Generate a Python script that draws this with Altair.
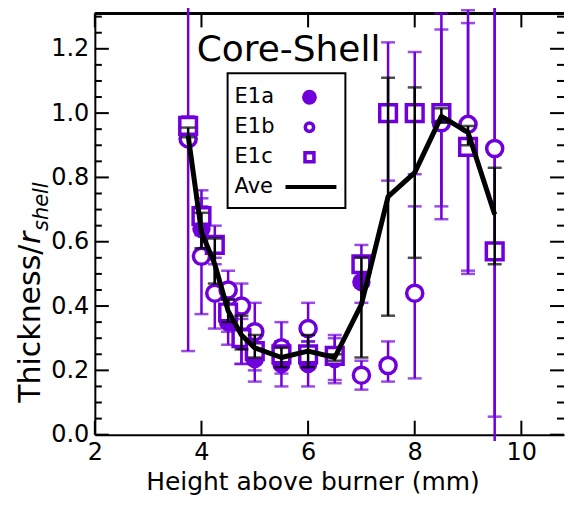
import altair as alt
import pandas as pd

# ---------------- data ----------------
ave_x = [3.75, 4.0, 4.25, 4.5, 4.75, 5.0, 5.5, 6.0, 6.5, 7.0, 7.5, 8.0, 8.5, 9.0, 9.5]
ave_y = [0.93, 0.63, 0.53, 0.385, 0.31, 0.27, 0.24, 0.26, 0.24, 0.405, 0.74, 0.815, 0.99, 0.94, 0.685]
ave_lo = [0.925, 0.58, 0.47, 0.35, 0.265, 0.24, 0.21, 0.21, 0.23, 0.24, 0.37, 0.55, 0.97, 0.90, 0.53]
ave_hi = [0.955, 0.69, 0.61, 0.42, 0.37, 0.31, 0.27, 0.31, 0.25, 0.55, 1.11, 1.08, 1.015, 0.96, 0.83]

e1a_x = [4.0, 4.5, 4.75, 5.0, 5.5, 6.0, 6.5, 7.0]
e1a_y = [0.64, 0.35, 0.29, 0.235, 0.22, 0.22, 0.235, 0.475]
e1a_lo = [0.57, 0.28, 0.22, 0.165, 0.15, 0.15, 0.16, 0.41]
e1a_hi = [0.71, 0.42, 0.36, 0.30, 0.29, 0.29, 0.30, 0.54]

e1b_x = [3.75, 4.0, 4.25, 4.5, 4.75, 5.0, 5.5, 6.0, 7.0, 7.5, 8.0, 8.5, 9.0, 9.5]
e1b_y = [0.92, 0.555, 0.44, 0.45, 0.40, 0.32, 0.27, 0.33, 0.185, 0.215, 0.44, 0.97, 0.965, 0.89]
e1b_lo = [0.26, 0.375, 0.33, 0.39, 0.33, 0.25, 0.19, 0.26, 0.14, 0.165, 0.175, 0.67, 0.50, -0.02]
e1b_hi = [1.40, 0.735, 0.55, 0.51, 0.47, 0.41, 0.35, 0.41, 0.23, 0.29, 0.71, 1.31, 1.32, 1.40]

e1c_x = [3.75, 4.0, 4.25, 4.5, 4.75, 5.0, 5.5, 6.0, 6.5, 7.0, 7.5, 8.0, 8.5, 9.0, 9.5]
e1c_y = [0.96, 0.68, 0.59, 0.38, 0.30, 0.26, 0.25, 0.25, 0.245, 0.53, 1.0, 1.0, 1.0, 0.895, 0.57]
e1c_lo = [0.93, 0.62, 0.53, 0.32, 0.22, 0.20, 0.21, 0.21, 0.17, 0.47, 0.79, 0.81, 0.71, 0.51, 0.056]
e1c_hi = [0.99, 0.76, 0.65, 0.44, 0.38, 0.32, 0.29, 0.29, 0.31, 0.59, 1.22, 1.19, 1.26, 1.28, 1.40]

x_major = [2, 4, 6, 8, 10]
y_major = [0.0, 0.2, 0.4, 0.6, 0.8, 1.0, 1.2]
y_minor = [0.05, 0.1, 0.15, 0.25, 0.3, 0.35, 0.45, 0.5, 0.55, 0.65, 0.7, 0.75,
           0.85, 0.9, 0.95, 1.05, 1.1, 1.15, 1.25, 1.3]

# ---------------- layout / style ----------------
W, H = 470, 422
PURPLE = "#6F00DC"
FONT = "DejaVu Sans"

def frame(name, xs, ys, lo, hi):
    return pd.DataFrame({"series": name, "x": xs, "y": ys, "lo": lo, "hi": hi})

df_a = frame("E1a", e1a_x, e1a_y, e1a_lo, e1a_hi)
df_b = frame("E1b", e1b_x, e1b_y, e1b_lo, e1b_hi)
df_c = frame("E1c", e1c_x, e1c_y, e1c_lo, e1c_hi)
df_ave = frame("Ave", ave_x, ave_y, ave_lo, ave_hi)
df_purple = pd.concat([df_a, df_b, df_c], ignore_index=True)

xscale = alt.Scale(domain=[2, 10.8], nice=False, zero=False)
yscale = alt.Scale(domain=[0, 1.31], nice=False, zero=False)
xaxis = alt.Axis(values=x_major, ticks=False, grid=False, domain=True,
                 domainColor="black", domainWidth=2, labelFont=FONT,
                 labelFontSize=24, labelColor="black", labelPadding=6,
                 labelFlush=False, title="Height above burner (mm)",
                 titleFont=FONT, titleFontSize=25, titleFontWeight="normal",
                 titleColor="black", titlePadding=5, titleX=218)
yaxis = alt.Axis(values=y_major, format=".1f", ticks=False, grid=False,
                 domain=True, domainColor="black", domainWidth=2,
                 labelFont=FONT, labelFontSize=24, labelColor="black",
                 labelPadding=6, labelFlush=False, title=None)

def X(f):
    return alt.X(f, type="quantitative", scale=xscale, axis=xaxis)

def Y(f):
    return alt.Y(f, type="quantitative", scale=yscale, axis=yaxis)

layers = []

# inward ticks
ymaj = pd.DataFrame({"v": y_major})
ymin = pd.DataFrame({"v": y_minor})
xmaj = pd.DataFrame({"v": x_major})
tick_style = dict(color="black", strokeWidth=2)
layers.append(alt.Chart(ymaj).mark_rule(**tick_style).encode(y=Y("v"), x=alt.value(0), x2=alt.value(14)))
layers.append(alt.Chart(ymin).mark_rule(**tick_style).encode(y=Y("v"), x=alt.value(0), x2=alt.value(7)))
layers.append(alt.Chart(ymaj).mark_rule(**tick_style).encode(y=Y("v"), x=alt.value(W - 14), x2=alt.value(W)))
layers.append(alt.Chart(ymin).mark_rule(**tick_style).encode(y=Y("v"), x=alt.value(W - 7), x2=alt.value(W)))
layers.append(alt.Chart(xmaj).mark_rule(**tick_style).encode(x=X("v"), y=alt.value(H), y2=alt.value(H - 14)))
layers.append(alt.Chart(xmaj).mark_rule(**tick_style).encode(x=X("v"), y=alt.value(0), y2=alt.value(14)))
# top frame line
layers.append(alt.Chart(xmaj).mark_rule(color="black", strokeWidth=2).encode(
    x=alt.value(0), x2=alt.value(W), y=alt.value(0)))

# purple error bars
layers.append(alt.Chart(df_purple).mark_rule(color=PURPLE, strokeWidth=2.5).encode(
    x=X("x"), y=Y("lo"), y2=alt.Y2("hi")))
layers.append(alt.Chart(df_purple).transform_filter("datum.lo >= 0").mark_tick(
    color=PURPLE, orient="horizontal", size=14, thickness=2.5).encode(x=X("x"), y=Y("lo")))
layers.append(alt.Chart(df_purple).transform_filter("datum.hi <= 1.34").mark_tick(
    color=PURPLE, orient="horizontal", size=14, thickness=2.5).encode(x=X("x"), y=Y("hi")))

# markers
layers.append(alt.Chart(df_a).mark_point(shape="circle", filled=True, size=340, color=PURPLE, opacity=1).encode(
    x=X("x"), y=Y("y")))
layers.append(alt.Chart(df_b).mark_point(shape="circle", size=260, fill="white", fillOpacity=1,
                                         stroke=PURPLE, strokeWidth=3.5, opacity=1).encode(x=X("x"), y=Y("y")))
layers.append(alt.Chart(df_c).mark_point(shape="square", size=280, fill="white", fillOpacity=1,
                                         stroke=PURPLE, strokeWidth=3.5, opacity=1).encode(x=X("x"), y=Y("y")))

# average: error bars + line
layers.append(alt.Chart(df_ave).mark_rule(color="black", strokeWidth=2.5).encode(
    x=X("x"), y=Y("lo"), y2=alt.Y2("hi")))
layers.append(alt.Chart(df_ave).mark_tick(color="black", orient="horizontal", size=14, thickness=2.5).encode(
    x=X("x"), y=Y("lo")))
layers.append(alt.Chart(df_ave).mark_tick(color="black", orient="horizontal", size=14, thickness=2.5).encode(
    x=X("x"), y=Y("hi")))
layers.append(alt.Chart(df_ave).mark_line(color="black", strokeWidth=5, strokeJoin="round").encode(
    x=X("x"), y=Y("y")))

# annotation and legend (decoration, pixel placed)
one = pd.DataFrame({"k": [0]})
layers.append(alt.Chart(one).mark_text(text="Core-Shell", font=FONT, fontSize=36, align="left",
                                       baseline="alphabetic", color="black").encode(
    x=alt.value(102), y=alt.value(48)))
layers.append(alt.Chart(one).mark_rect(fill="white", stroke="black", strokeWidth=2).encode(
    x=alt.value(133), x2=alt.value(251), y=alt.value(60), y2=alt.value(195)))
for label, yy in [("E1a", 84), ("E1b", 114), ("E1c", 144), ("Ave", 174)]:
    layers.append(alt.Chart(one).mark_text(text=label, font=FONT, fontSize=21, align="left",
                                           baseline="middle", color="black").encode(
        x=alt.value(140), y=alt.value(yy)))
layers.append(alt.Chart(one).mark_point(shape="circle", filled=True, size=220, color=PURPLE, opacity=1).encode(
    x=alt.value(215), y=alt.value(84)))
layers.append(alt.Chart(one).mark_point(shape="circle", size=70, fill="white", fillOpacity=1,
                                        stroke=PURPLE, strokeWidth=3.5, opacity=1).encode(
    x=alt.value(215), y=alt.value(114)))
layers.append(alt.Chart(one).mark_point(shape="square", size=80, fill="white", fillOpacity=1,
                                        stroke=PURPLE, strokeWidth=3.5, opacity=1).encode(
    x=alt.value(215), y=alt.value(144)))
layers.append(alt.Chart(one).mark_rule(color="black", strokeWidth=4).encode(
    x=alt.value(191), x2=alt.value(242), y=alt.value(174)))

# y-axis title with italic subscript
layers.append(alt.Chart(one).mark_text(text="Thickness/", font=FONT, fontSize=30, angle=270,
                                       align="left", baseline="alphabetic", color="black").encode(
    x=alt.value(-55), y=alt.value(390)))
layers.append(alt.Chart(one).mark_text(text="r", font=FONT, fontSize=30, fontStyle="italic", angle=270,
                                       align="left", baseline="alphabetic", color="black").encode(
    x=alt.value(-55), y=alt.value(231)))
layers.append(alt.Chart(one).mark_text(text="shell", font=FONT, fontSize=21, fontStyle="italic", angle=270,
                                       align="left", baseline="alphabetic", color="black").encode(
    x=alt.value(-47), y=alt.value(218)))

chart = alt.layer(*layers).properties(
    width=W, height=H,
    autosize=alt.AutoSizeParams(type="none"),
    padding={"left": 87, "top": 5, "right": 2, "bottom": 60},
).configure_view(stroke=None)

chart.save("out.html", embed_options={"renderer": "svg", "actions": False})
